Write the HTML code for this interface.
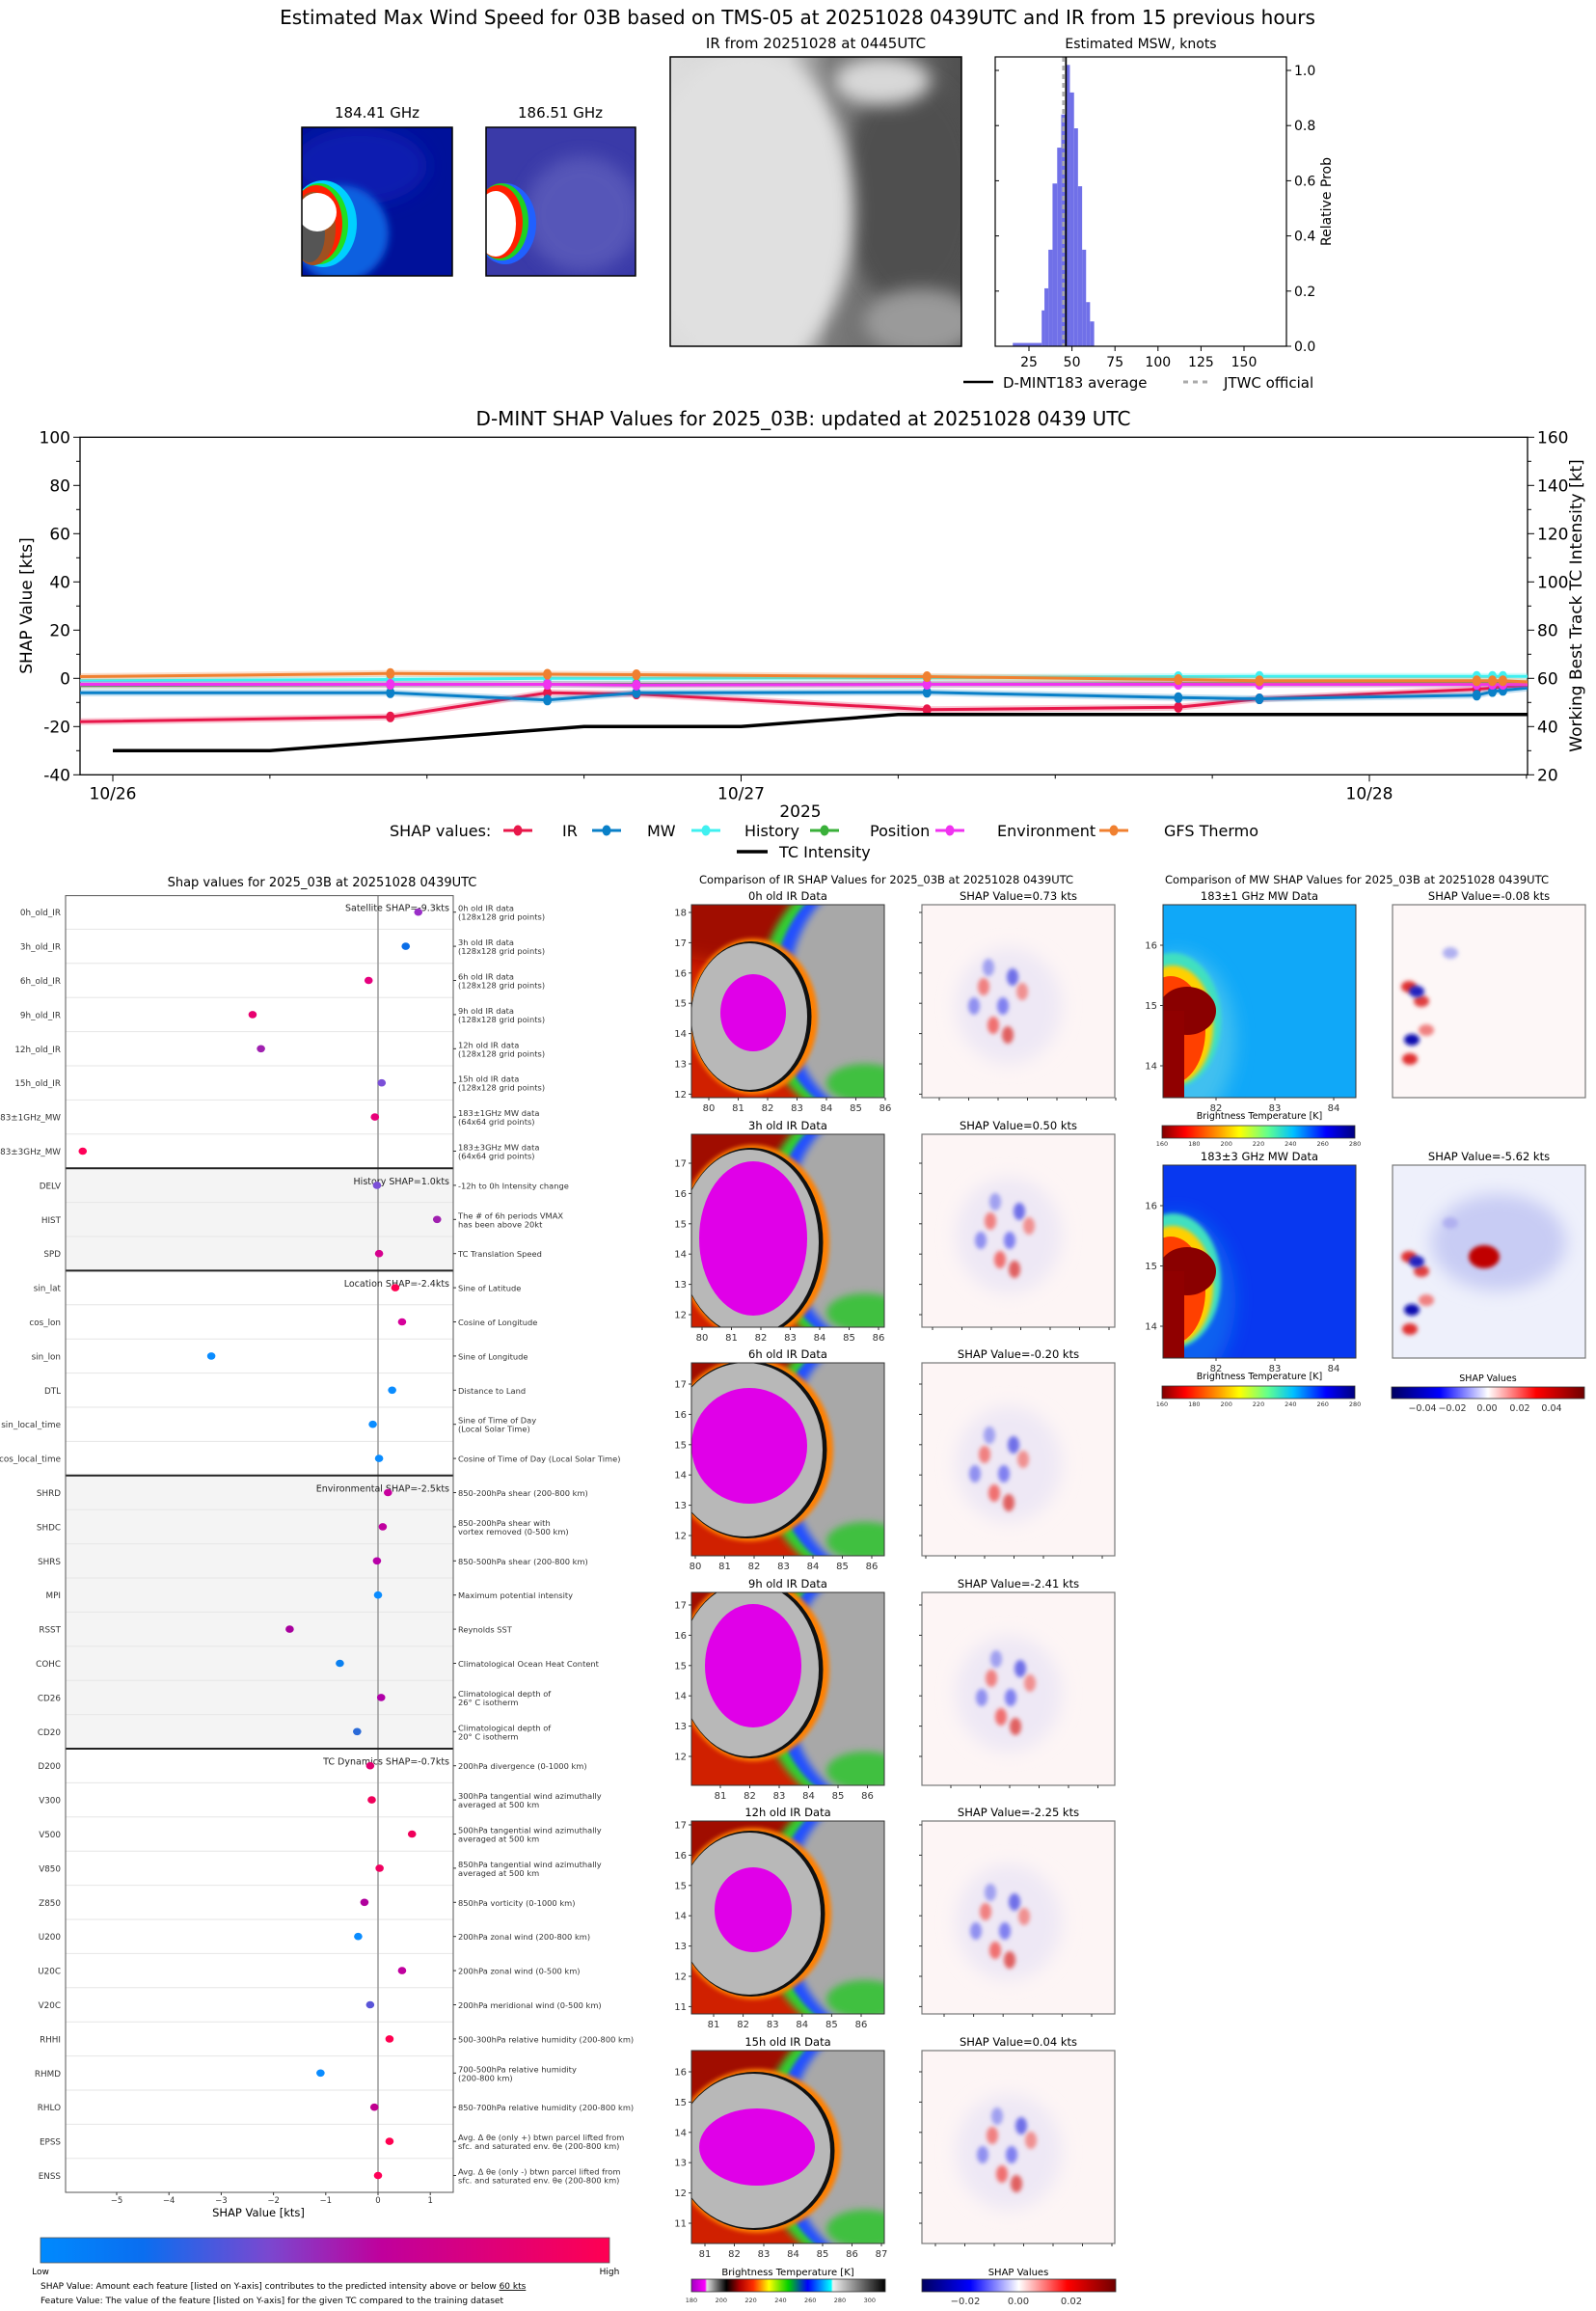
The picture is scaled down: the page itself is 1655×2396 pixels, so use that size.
<!DOCTYPE html>
<html><head><meta charset="utf-8">
<style>
html,body{margin:0;padding:0;background:#fff;}
svg{display:block;font-family:"DejaVu Sans","Liberation Sans",sans-serif;}
</style></head>
<body>
<svg id="root" xmlns="http://www.w3.org/2000/svg" width="1655" height="2396" viewBox="0 0 1655 2396">
<defs>
 <filter id="b4" x="-50%" y="-50%" width="200%" height="200%"><feGaussianBlur stdDeviation="4"/></filter>
 <filter id="b2" x="-50%" y="-50%" width="200%" height="200%"><feGaussianBlur stdDeviation="2"/></filter>
 <filter id="b8" x="-50%" y="-50%" width="200%" height="200%"><feGaussianBlur stdDeviation="9"/></filter>
 <linearGradient id="jetR" x1="0" x2="1" y1="0" y2="0">
  <stop offset="0" stop-color="#800000"/><stop offset="0.12" stop-color="#ff0000"/><stop offset="0.3" stop-color="#ffa000"/><stop offset="0.4" stop-color="#ffff00"/><stop offset="0.55" stop-color="#60ff90"/><stop offset="0.68" stop-color="#00c0ff"/><stop offset="0.85" stop-color="#0000ff"/><stop offset="1" stop-color="#000080"/>
 </linearGradient>
 <linearGradient id="bwr" x1="0" x2="1" y1="0" y2="0">
  <stop offset="0" stop-color="#000060"/><stop offset="0.25" stop-color="#0000ff"/><stop offset="0.5" stop-color="#ffffff"/><stop offset="0.75" stop-color="#ff0000"/><stop offset="1" stop-color="#700000"/>
 </linearGradient>
 <linearGradient id="irc" x1="0" x2="1" y1="0" y2="0">
  <stop offset="0" stop-color="#a000c0"/><stop offset="0.07" stop-color="#ff00ff"/><stop offset="0.08" stop-color="#e0e0e0"/><stop offset="0.18" stop-color="#000000"/><stop offset="0.25" stop-color="#b00000"/><stop offset="0.32" stop-color="#ff3000"/><stop offset="0.4" stop-color="#ffff00"/><stop offset="0.5" stop-color="#00d000"/><stop offset="0.6" stop-color="#0000ff"/><stop offset="0.72" stop-color="#00ffff"/><stop offset="0.73" stop-color="#f0f0f0"/><stop offset="1" stop-color="#000000"/>
 </linearGradient>
 <linearGradient id="shapc" x1="0" x2="1" y1="0" y2="0">
  <stop offset="0" stop-color="#008afe"/><stop offset="0.18" stop-color="#0a6ef0"/><stop offset="0.4" stop-color="#7a48d0"/><stop offset="0.6" stop-color="#c0009c"/><stop offset="1" stop-color="#ff0052"/>
 </linearGradient>
 <linearGradient id="irtop" x1="0" x2="1" y1="0" y2="0">
  <stop offset="0" stop-color="#dcdcdc"/><stop offset="0.4" stop-color="#d0d0d0"/><stop offset="0.55" stop-color="#7a7a7a"/><stop offset="1" stop-color="#505050"/>
 </linearGradient>
</defs>

<text x="827" y="25" font-size="20" text-anchor="middle">Estimated Max Wind Speed for 03B based on TMS-05 at 20251028 0439UTC and IR from 15 previous hours</text>
<text x="391" y="122" font-size="15" text-anchor="middle">184.41 GHz</text>
<text x="581" y="122" font-size="15" text-anchor="middle">186.51 GHz</text>
<text x="846" y="50" font-size="15" text-anchor="middle">IR from 20251028 at 0445UTC</text>
<text x="1183" y="50" font-size="14" text-anchor="middle">Estimated MSW, knots</text>

<g>
 <svg x="313" y="132" width="156" height="154" viewBox="0 0 156 154"><rect width="156" height="154" fill="#00119a"/>
  <ellipse cx="60" cy="40" rx="70" ry="40" fill="#0a1fb0" filter="url(#b8)"/>
  <ellipse cx="40" cy="110" rx="50" ry="50" fill="#0a60e0" filter="url(#b4)"/>
  <ellipse cx="22" cy="100" rx="35" ry="45" fill="#00d0ff"/>
  <ellipse cx="18" cy="100" rx="30" ry="42" fill="#20e020"/>
  <ellipse cx="15" cy="100" rx="27" ry="40" fill="#ff2000"/>
  <ellipse cx="12" cy="105" rx="23" ry="38" fill="#a05020"/>
  <ellipse cx="8" cy="110" rx="16" ry="30" fill="#555"/>
  <ellipse cx="16" cy="88" rx="20" ry="20" fill="#fff"/>
 </svg>
 <rect x="313" y="132" width="156" height="154" fill="none" stroke="#000" stroke-width="1.5"/>
</g>
<g>
 <svg x="504" y="132" width="155" height="154" viewBox="0 0 155 154"><rect width="155" height="154" fill="#3a3aa8"/>
  <ellipse cx="100" cy="90" rx="60" ry="60" fill="#5656b8" filter="url(#b8)"/>
  <ellipse cx="20" cy="100" rx="32" ry="42" fill="#2060ff"/>
  <ellipse cx="16" cy="98" rx="28" ry="40" fill="#20d020"/>
  <ellipse cx="13" cy="98" rx="25" ry="38" fill="#ff2000"/>
  <ellipse cx="10" cy="100" rx="21" ry="34" fill="#fff"/>
 </svg>
 <rect x="504" y="132" width="155" height="154" fill="none" stroke="#000" stroke-width="1.5"/>
</g>
<g>
 <svg x="695" y="59" width="302" height="300" viewBox="0 0 302 300"><rect width="302" height="300" fill="url(#irtop)"/>
  <ellipse cx="250" cy="140" rx="70" ry="120" fill="#505050" filter="url(#b8)"/>
  <ellipse cx="80" cy="160" rx="110" ry="170" fill="#e0e0e0" filter="url(#b8)"/>
  <ellipse cx="220" cy="25" rx="50" ry="25" fill="#d8d8d8" filter="url(#b8)"/>
  <ellipse cx="260" cy="275" rx="60" ry="35" fill="#9a9a9a" filter="url(#b8)"/>
 </svg>
 <rect x="695" y="59" width="302" height="300" fill="none" stroke="#000" stroke-width="1.5"/>
</g>
<g id="hist"></g>
<g>
 <line x1="999" y1="396" x2="1030" y2="396" stroke="#000" stroke-width="2.5"/>
 <text x="1040" y="402" font-size="15">D-MINT183 average</text>
 <line x1="1227" y1="396" x2="1257" y2="396" stroke="#aaa" stroke-width="3" stroke-dasharray="5,5"/>
 <text x="1269" y="402" font-size="15">JTWC official</text>
</g>

<text x="833" y="441" font-size="20" text-anchor="middle">D-MINT SHAP Values for 2025_03B: updated at 20251028 0439 UTC</text>
<g id="ts"></g>
<text transform="translate(33,628) rotate(-90)" font-size="17" text-anchor="middle">SHAP Value [kts]</text>
<text transform="translate(1640,628) rotate(-90)" font-size="17" text-anchor="middle">Working Best Track TC Intensity [kt]</text>
<text x="830" y="847" font-size="17" text-anchor="middle">2025</text>
<g id="tslegend">
 <text x="404" y="867" font-size="16">SHAP values:</text>
</g>

<text x="334" y="919" font-size="13" text-anchor="middle">Shap values for 2025_03B at 20251028 0439UTC</text>
<g id="dots"></g>
<text x="268" y="2298" font-size="11.5" text-anchor="middle">SHAP Value [kts]</text>
<rect x="42" y="2320" width="590" height="26" fill="url(#shapc)" stroke="#555" stroke-width="0.8"/>
<text x="42" y="2358" font-size="9" text-anchor="middle">Low</text>
<text x="632" y="2358" font-size="9" text-anchor="middle">High</text>
<text x="42" y="2373" font-size="9">SHAP Value: Amount each feature [listed on Y-axis] contributes to the predicted intensity above or below <tspan text-decoration="underline">60 kts</tspan></text>
<text x="42" y="2388" font-size="9">Feature Value: The value of the feature [listed on Y-axis] for the given TC compared to the training dataset</text>

<text x="919" y="916" font-size="11.5" text-anchor="middle">Comparison of IR SHAP Values for 2025_03B at 20251028 0439UTC</text>
<text x="1407" y="916" font-size="11.5" text-anchor="middle">Comparison of MW SHAP Values for 2025_03B at 20251028 0439UTC</text>
<g id="irpanels"></g>
<g id="mwpanels"></g>
</svg>

<script>
const NS='http://www.w3.org/2000/svg';
const histBinStarts=[15.6,32.4,34.0,36.3,38.7,41.4,43.75,46.1,48.8,51.2,53.5,55.9,58.2,60.5];
const histBinEnd=62.9;
const histProbs=[0.012,0.13,0.21,0.35,0.59,0.72,0.84,1.02,0.92,0.79,0.58,0.35,0.16,0.09];
const histXTicks=[25,50,75,100,125,150];
const histYTicks=[0,0.2,0.4,0.6,0.8,1.0];
const dmintMean=46.5;
const jtwcOfficial=45;

const tsHours=[-1.25,10.6,16.6,20,31.1,40.7,43.8,52.1,52.7,53.1,54.04];
const tsIR=[-18,-16,-6,-6.5,-13,-12,-8.5,-4.5,-4,-3.5,-3];
const tsMW=[-6,-6,-9,-6,-5.8,-8,-8.5,-7,-5.5,-5,-4];
const tsHistory=[-1,-0.5,0,0,0.3,0.7,0.8,0.8,0.8,0.8,0.8];
const tsPosition=[-3,-2.6,-2.5,-2.5,-2.4,-2.2,-2.2,-2.1,-2.1,-2.1,-2.1];
const tsEnvironment=[-2.5,-2.5,-2.5,-2.8,-2.5,-2.5,-2.5,-2.5,-2.5,-2.5,-2.5];
const tsGFS=[0.7,2,1.7,1.5,0.7,-0.5,-1,-1,-1,-1,-1.5];
const tcHours=[0,6,18,24,30,54.04];
const tcIntensity=[30,30,40,40,45,45];
const tsLeftTicks=[-40,-20,0,20,40,60,80,100];
const tsRightTicks=[20,40,60,80,100,120,140,160];
const tsDateLabels=['10/26','10/27','10/28'];

const features=['0h_old_IR','3h_old_IR','6h_old_IR','9h_old_IR','12h_old_IR','15h_old_IR','183±1GHz_MW','183±3GHz_MW','DELV','HIST','SPD','sin_lat','cos_lon','sin_lon','DTL','sin_local_time','cos_local_time','SHRD','SHDC','SHRS','MPI','RSST','COHC','CD26','CD20','D200','V300','V500','V850','Z850','U200','U20C','V20C','RHHI','RHMD','RHLO','EPSS','ENSS'];
const featureShap=[0.77,0.53,-0.18,-2.4,-2.24,0.07,-0.06,-5.65,-0.02,1.13,0.02,0.33,0.46,-3.19,0.27,-0.1,0.02,0.19,0.09,-0.02,0,-1.69,-0.73,0.06,-0.4,-0.15,-0.12,0.65,0.03,-0.26,-0.38,0.46,-0.15,0.22,-1.1,-0.07,0.22,0];
const featureColors=['#9a2fc8','#0a6ee8','#e6007e','#e8006f','#a020b0','#7b4fd8','#e8007a','#ff0058','#7b4fd8','#a020b0','#d6008e','#ff0050','#d6009a','#0a8cff','#0a8cff','#0a8cff','#0a8cff','#c8009e','#c0009f','#b800a8','#0a8cff','#a8009e','#0a80f0','#b000a8','#2a6ad8','#e00070','#f0005a','#f0005a','#f00060','#b0009c','#0a8cff','#c0009e','#5a55d8','#ff0050','#0a8cff','#c00090','#ff0050','#ff0058'];
const featureDesc=[['0h old IR data','(128x128 grid points)'],['3h old IR data','(128x128 grid points)'],['6h old IR data','(128x128 grid points)'],['9h old IR data','(128x128 grid points)'],['12h old IR data','(128x128 grid points)'],['15h old IR data','(128x128 grid points)'],['183±1GHz MW data','(64x64 grid points)'],['183±3GHz MW data','(64x64 grid points)'],['-12h to 0h Intensity change'],['The # of 6h periods VMAX','has been above 20kt'],['TC Translation Speed'],['Sine of Latitude'],['Cosine of Longitude'],['Sine of Longitude'],['Distance to Land'],['Sine of Time of Day','(Local Solar Time)'],['Cosine of Time of Day (Local Solar Time)'],['850-200hPa shear (200-800 km)'],['850-200hPa shear with','vortex removed (0-500 km)'],['850-500hPa shear (200-800 km)'],['Maximum potential intensity'],['Reynolds SST'],['Climatological Ocean Heat Content'],['Climatological depth of','26° C isotherm'],['Climatological depth of','20° C isotherm'],['200hPa divergence (0-1000 km)'],['300hPa tangential wind azimuthally','averaged at 500 km'],['500hPa tangential wind azimuthally','averaged at 500 km'],['850hPa tangential wind azimuthally','averaged at 500 km'],['850hPa vorticity (0-1000 km)'],['200hPa zonal wind (200-800 km)'],['200hPa zonal wind (0-500 km)'],['200hPa meridional wind (0-500 km)'],['500-300hPa relative humidity (200-800 km)'],['700-500hPa relative humidity','(200-800 km)'],['850-700hPa relative humidity (200-800 km)'],['Avg. Δ θe (only +) btwn parcel lifted from','sfc. and saturated env. θe (200-800 km)'],['Avg. Δ θe (only -) btwn parcel lifted from','sfc. and saturated env. θe (200-800 km)']];
const sectionNames=['Satellite SHAP=-9.3kts','History SHAP=1.0kts','Location SHAP=-2.4kts','Environmental SHAP=-2.5kts','TC Dynamics SHAP=-0.7kts'];
const sectionStarts=[0,8,11,17,25];
const dotXTicks=[-5,-4,-3,-2,-1,0,1];

const irTitles=['0h old IR Data','3h old IR Data','6h old IR Data','9h old IR Data','12h old IR Data','15h old IR Data'];
const irShapValues=['0.73','0.50','-0.20','-2.41','-2.25','0.04'];
const mwTitles=['183±1 GHz MW Data','183±3 GHz MW Data'];
const mwShapValues=['-0.08','-5.62'];

const root=document.getElementById('root');
function mk(tag,attrs,parent){const e=document.createElementNS(NS,tag);for(const k in attrs)e.setAttribute(k,attrs[k]);parent.appendChild(e);return e;}
function txt(s,attrs,parent){const e=mk('text',attrs,parent);e.textContent=s;return e;}

(function(){
 const g=document.getElementById('hist');
 const X0=1032,X1=1334,Y0=59,Y1=359;
 const hx=v=>1067+(v-25)*1.784, hy=p=>359-p*286;
 for(let i=0;i<histProbs.length;i++){
  const a=histBinStarts[i], b=(i+1<histBinStarts.length)?histBinStarts[i+1]:histBinEnd;
  const r=mk('rect',{x:hx(a),y:hy(histProbs[i]),width:hx(b)-hx(a),height:359-hy(histProbs[i]),fill:'#7070e8'},g);
  
  
 }
 const jl=mk('line',{x1:hx(jtwcOfficial),x2:hx(jtwcOfficial),y1:Y0,y2:Y1,stroke:'#aaa','stroke-width':2.5,'stroke-dasharray':'5,4'},g);
 
 
 const ml=mk('line',{x1:hx(dmintMean),x2:hx(dmintMean),y1:Y0,y2:Y1,stroke:'#000','stroke-width':1.8},g);
 
 
 const fr=mk('rect',{x:X0,y:Y0,width:X1-X0,height:Y1-Y0,fill:'none',stroke:'#000','stroke-width':1.2},g);
 
 
 histXTicks.forEach(t=>{
  mk('line',{x1:hx(t),x2:hx(t),y1:Y1,y2:Y1+5,stroke:'#000'},g);
  const l=txt(String(t),{x:hx(t),y:Y1+21,'font-size':14,'text-anchor':'middle'},g);
  
  
 });
 histYTicks.forEach(t=>{
  mk('line',{x1:X1,x2:X1+5,y1:hy(t),y2:hy(t),stroke:'#000'},g);
  mk('line',{x1:X0,x2:X0+4,y1:hy(t),y2:hy(t),stroke:'#000'},g);
  const l=txt(t.toFixed(1),{x:X1+8,y:hy(t)+5,'font-size':14},g);
  
  
 });
 const yl=txt('Relative Prob',{transform:'translate(1380,209) rotate(-90)','font-size':14,'text-anchor':'middle'},g);
 
 
})();

(function(){
 const g=document.getElementById('ts');
 const X0=83,X1=1584,Y0=453.3,Y1=803.3;
 const tx=h=>117+h*27.146, ty=v=>Y0+(100-v)*2.5, ty2=v=>Y0+(160-v)*2.5;
 const fr=mk('rect',{x:X0,y:Y0,width:X1-X0,height:Y1-Y0,fill:'none',stroke:'#000','stroke-width':1.3},g);
 
 
 for(let v=-40;v<=100;v+=10){mk('line',{x1:X0-(v%20===0?7:4),x2:X0,y1:ty(v),y2:ty(v),stroke:'#000'},g);}
 for(let v=20;v<=160;v+=10){mk('line',{x1:X1,x2:X1+(v%20===0?7:4),y1:ty2(v),y2:ty2(v),stroke:'#000'},g);}
 tsLeftTicks.forEach(v=>{const l=txt(String(v),{x:X0-10,y:ty(v)+6,'font-size':17,'text-anchor':'end'},g);
  
  });
 tsRightTicks.forEach(v=>{const l=txt(String(v),{x:X1+10,y:ty2(v)+6,'font-size':17},g);
  
  });
 for(let h=0;h<=54;h+=6){mk('line',{x1:tx(h),x2:tx(h),y1:Y1,y2:Y1+(h%24===0?7:4),stroke:'#000'},g);}
 tsDateLabels.forEach((s,i)=>{const l=txt(s,{x:tx(i*24),y:Y1+25,'font-size':17,'text-anchor':'middle'},g);
  
  });
 const series=[['ir',tsIR,'#e8174a'],['mw',tsMW,'#0a80c8'],['history',tsHistory,'#40f0f0'],['position',tsPosition,'#3ab03a'],['environment',tsEnvironment,'#f032f0'],['gfs-thermo',tsGFS,'#f08030']];
 series.forEach(([nm,vals,col])=>{
  const pts=vals.map((v,i)=>tx(tsHours[i])+','+ty(v)).join(' ');
  const halo=mk('polyline',{points:pts,fill:'none',stroke:col,'stroke-opacity':0.25,'stroke-width':7},g);
  
  
  const pl=mk('polyline',{points:pts,fill:'none',stroke:col,'stroke-width':3},g);
  
  
  for(let i=1;i<vals.length-1;i++){
   const c=mk('ellipse',{cx:tx(tsHours[i]),cy:ty(vals[i]),rx:4.5,ry:5.5,fill:col},g);
   
   
  }
 });
 const tpts=tcIntensity.map((v,i)=>tx(tcHours[i])+','+ty2(v)).join(' ');
 const tc=mk('polyline',{points:tpts,fill:'none',stroke:'#000','stroke-width':3.5},g);
 
 
 const lg=document.getElementById('tslegend');
 const items=[['IR','#e8174a',537,583],['MW','#0a80c8',629,671],['History','#40f0f0',732,772],['Position','#3ab03a',855,902],['Environment','#f032f0',985,1034],['GFS Thermo','#f08030',1155,1207]];
 items.forEach(([s,c,mx,txx])=>{
  const ln=mk('line',{x1:mx-15,x2:mx+15,y1:861,y2:861,stroke:c,'stroke-width':3},lg);
  
  
  const d=mk('ellipse',{cx:mx,cy:861,rx:4.5,ry:5.5,fill:c},lg);
  
  
  const t=txt(s,{x:txx,y:867,'font-size':16},lg);
  
  
 });
 const tl=mk('line',{x1:764,x2:796,y1:883,y2:883,stroke:'#000','stroke-width':3.5},lg);
 
 
 const tt=txt('TC Intensity',{x:808,y:889,'font-size':16},lg);
 
 
})();

(function(){
 const g=document.getElementById('dots');
 const X0=68,X1=470,Y0=928.6,Y1=2273;
 const dx=v=>392+v*54.2, rowY=i=>945.7+i*35.4;
 const bgSections=[[8,11],[17,25]];
 bgSections.forEach(([a,b])=>{
  const r=mk('rect',{x:X0,y:rowY(a)-17.7,width:X1-X0,height:(b-a)*35.4,fill:'#f4f4f4'},g);
  
  
 });
 for(let i=0;i<features.length-1;i++){mk('line',{x1:X0,x2:X1,y1:rowY(i)+17.7,y2:rowY(i)+17.7,stroke:'#e6e6e6','stroke-width':1},g);}
 const zl=mk('line',{x1:dx(0),x2:dx(0),y1:Y0,y2:Y1,stroke:'#999','stroke-width':1.5},g);
 
 
 sectionStarts.forEach((s,k)=>{
  if(s>0){const l=mk('line',{x1:X0,x2:X1,y1:rowY(s)-17.7,y2:rowY(s)-17.7,stroke:'#222','stroke-width':2},g);
   
   }
  const t=txt(sectionNames[k],{x:466,y:rowY(s)-1,'font-size':9.5,'text-anchor':'end',fill:'#222'},g);
  
  
 });
 const fr=mk('rect',{x:X0,y:Y0,width:X1-X0,height:Y1-Y0,fill:'none',stroke:'#555','stroke-width':1},g);
 
 
 features.forEach((f,i)=>{
  const y=rowY(i);
  const lab=txt(f,{x:63,y:y+3.5,'font-size':8.8,'text-anchor':'end',fill:'#333'},g);
  
  
  mk('line',{x1:X1,x2:X1+3,y1:y,y2:y,stroke:'#333'},g);
  const d=featureDesc[i];
  const y0=d.length===1?y+3.5:y-1;
  d.forEach((s,j)=>{const t=txt(s,{x:475,y:y0+j*9,'font-size':8.3,fill:'#333'},g);
   
   });
  const c=mk('ellipse',{cx:dx(featureShap[i]),cy:y,rx:4.3,ry:3.8,fill:featureColors[i]},g);
  
  
 });
 dotXTicks.forEach(v=>{
  mk('line',{x1:dx(v),x2:dx(v),y1:Y1,y2:Y1+3,stroke:'#333'},g);
  const t=txt(v<0?'\u2212'+Math.abs(v):String(v),{x:dx(v),y:Y1+11,'font-size':8.5,'text-anchor':'middle',fill:'#333'},g);
  
  
 });
})();

const irTops=[938,1176,1413,1651,1888,2126];
const irBlobs=[[0.3,0.58,0.17,0.2,0.3,0.38],[0.3,0.56,0.28,0.4,0.36,0.48],[0.28,0.45,0.3,0.3,0.4,0.45],[0.3,0.4,0.25,0.32,0.36,0.45],[0.3,0.48,0.2,0.22,0.37,0.42],[0.32,0.52,0.3,0.2,0.4,0.4]];
const irYLab=[[18,8,7],[17,30,6],[17,22,6],[17,13,6],[17,4,7],[16,22,6]];
const irXLab=[[80,735,30.5,7],[80,728,30.5,7],[80,721,30.5,7],[81,747,30.5,6],[81,740,30.6,6],[81,731,30.5,7]];
(function(){
 const g=document.getElementById('irpanels');
 const W=200,H=200,XA=717,XB=956;
 irTops.forEach((top,r)=>{
  const b=irBlobs[r];
  const t1=txt(irTitles[r],{x:XA+100,y:top-5,'font-size':11.5,'text-anchor':'middle'},g);
  
  
  const t2=txt('SHAP Value='+irShapValues[r]+' kts',{x:XB+100,y:top-5,'font-size':11.5,'text-anchor':'middle'},g);
  
  
  const s=mk('svg',{x:XA,y:top,width:W,height:H,viewBox:'0 0 200 200'},g);
  
  
  mk('rect',{width:200,height:200,fill:'#d02000'},s);
  mk('ellipse',{cx:40,cy:20,rx:90,ry:40,fill:'#a01000',filter:'url(#b8)'},s);
  mk('ellipse',{cx:175,cy:95,rx:105,ry:130,fill:'#30d030',filter:'url(#b4)'},s);
  mk('ellipse',{cx:178,cy:95,rx:94,ry:125,fill:'#2050ff',filter:'url(#b2)'},s);
  mk('ellipse',{cx:182,cy:95,rx:82,ry:120,fill:'#a8a8a8',filter:'url(#b4)'},s);
  mk('ellipse',{cx:180,cy:185,rx:40,ry:20,fill:'#40c040',filter:'url(#b4)'},s);
  mk('ellipse',{cx:b[0]*200+4,cy:b[1]*200,rx:b[4]*200+7,ry:b[5]*200+5,fill:'#ff8000',filter:'url(#b2)'},s);
  mk('ellipse',{cx:b[0]*200+2,cy:b[1]*200,rx:b[4]*200+2.5,ry:b[5]*200+2,fill:'#111'},s);
  mk('ellipse',{cx:b[0]*200,cy:b[1]*200,rx:b[4]*200,ry:b[5]*200,fill:'#b8b8b8'},s);
  mk('ellipse',{cx:b[0]*200+4,cy:b[1]*200-4,rx:b[2]*200,ry:b[3]*200,fill:'#e000e8'},s);
  mk('rect',{x:XA,y:top,width:W,height:H,fill:'none',stroke:'#333','stroke-width':1},g);
  const sm=mk('svg',{x:XB,y:top,width:W,height:H,viewBox:'0 0 200 200'},g);
  
  
  mk('rect',{width:200,height:200,fill:'#fdf5f5'},sm);
  mk('ellipse',{cx:90,cy:105,rx:55,ry:60,fill:'#eee8f5',filter:'url(#b8)'},sm);
  const spots=[[70,90,'#f08080'],[90,110,'#8080f0'],[80,130,'#f07070'],[100,80,'#7070e8'],[60,110,'#9090f0'],[95,140,'#e06060'],[110,95,'#f09090'],[75,70,'#a0a0f0']];
  spots.forEach(([x,y,c],k)=>{mk('ellipse',{cx:x+(r*7%13)-6,cy:y+(r*5%11)-5,rx:6,ry:9,fill:c,filter:'url(#b2)'},sm);});
  mk('rect',{x:XB,y:top,width:W,height:H,fill:'none',stroke:'#777','stroke-width':1.2},g);
  const yl=irYLab[r];
  for(let k=0;k<yl[2];k++){const yy=top+yl[1]+k*31.4;
   mk('line',{x1:XA-3,x2:XA,y1:yy,y2:yy,stroke:'#333'},g);
   mk('line',{x1:XB-3,x2:XB,y1:yy,y2:yy,stroke:'#333'},g);
   const t=txt(String(yl[0]-k),{x:XA-5,y:yy+3.5,'font-size':10,'text-anchor':'end',fill:'#333'},g);
   
   }
  const xl=irXLab[r];
  for(let k=0;k<xl[3];k++){const xx=xl[1]+k*xl[2];
   mk('line',{x1:xx,x2:xx,y1:top+H,y2:top+H+3,stroke:'#333'},g);
   mk('line',{x1:xx+239,x2:xx+239,y1:top+H,y2:top+H+3,stroke:'#333'},g);
   const t=txt(String(xl[0]+k),{x:xx,y:top+H+14,'font-size':10,'text-anchor':'middle',fill:'#333'},g);
   
   }
 });
 const ct=txt('Brightness Temperature [K]',{x:817,y:2359,'font-size':10,'text-anchor':'middle'},g);
 
 
 const cb=mk('rect',{x:717,y:2363,width:201,height:13,fill:'url(#irc)',stroke:'#333','stroke-width':0.8},g);
 
 
 [180,200,220,240,260,280,300].forEach((v,k)=>{const t=txt(String(v),{x:717+(v-180)*1.54,y:2387,'font-size':6.5,'text-anchor':'middle',fill:'#333'},g);
  
  });
 const st=txt('SHAP Values',{x:1056,y:2359,'font-size':10,'text-anchor':'middle'},g);
 
 
 const sb=mk('rect',{x:956,y:2363,width:201,height:13,fill:'url(#bwr)',stroke:'#333','stroke-width':0.8},g);
 
 
 [['\u22120.02',1001],['0.00',1056],['0.02',1111]].forEach(([s,x])=>{const t=txt(s,{x:x,y:2389,'font-size':10,'text-anchor':'middle',fill:'#333'},g);
  
  });
})();

const mwTops=[938,1208];
(function(){
 const g=document.getElementById('mwpanels');
 const XA=1206,XB=1444,W=200,H=200;
 mwTops.forEach((top,r)=>{
  const t1=txt(mwTitles[r],{x:XA+100,y:top-5,'font-size':11.5,'text-anchor':'middle'},g);
  
  
  const t2=txt('SHAP Value='+mwShapValues[r]+' kts',{x:XB+100,y:top-5,'font-size':11.5,'text-anchor':'middle'},g);
  
  
  const s=mk('svg',{x:XA,y:top,width:W,height:H,viewBox:'0 0 200 200'},g);
  
  
  mk('rect',{width:200,height:200,fill:r===0?'#10a8f8':'#0838f0'},s);
  mk('ellipse',{cx:15,cy:140,rx:60,ry:90,fill:r===0?'#40c0f0':'#1060f0',filter:'url(#b8)'},s);
  mk('ellipse',{cx:10,cy:120,rx:50,ry:70,fill:'#40e0c0',filter:'url(#b2)'},s);
  mk('ellipse',{cx:10,cy:125,rx:42,ry:62,fill:'#ffd000',filter:'url(#b2)'},s);
  mk('ellipse',{cx:8,cy:130,rx:36,ry:56,fill:'#ff4000'},s);
  mk('ellipse',{cx:25,cy:110,rx:30,ry:25,fill:'#8a0000'},s);
  mk('rect',{x:0,y:110,width:22,height:90,fill:'#900000'},s);
  mk('rect',{x:XA,y:top,width:W,height:H,fill:'none',stroke:'#333','stroke-width':1},g);
  const sm=mk('svg',{x:XB,y:top,width:W,height:H,viewBox:'0 0 200 200'},g);
  
  
  mk('rect',{width:200,height:200,fill:r===0?'#fdf7f7':'#eef0fb'},sm);
  if(r===1){mk('ellipse',{cx:110,cy:80,rx:70,ry:50,fill:'#c8ccf4',filter:'url(#b8)'},sm);
   mk('ellipse',{cx:95,cy:95,rx:16,ry:12,fill:'#c00000',filter:'url(#b2)'},sm);}
  [[17,95,'#e03030'],[30,110,'#e04040'],[25,100,'#2020c0'],[20,150,'#1010b0'],[18,170,'#e03030'],[35,140,'#f08080'],[60,60,'#b0b0f0']].forEach(([x,y,c])=>{
   mk('ellipse',{cx:x,cy:r===0?y-10:y,rx:8,ry:6,fill:c,filter:'url(#b2)'},sm);});
  mk('rect',{x:XB,y:top,width:W,height:H,fill:'none',stroke:'#777','stroke-width':1.2},g);
  [[16,42],[15,104.5],[14,167]].forEach(([v,o])=>{
   mk('line',{x1:XA-3,x2:XA,y1:top+o,y2:top+o,stroke:'#333'},g);
   const t=txt(String(v),{x:XA-6,y:top+o+3.5,'font-size':10,'text-anchor':'end',fill:'#333'},g);
   
   });
  [[82,1261],[83,1322],[84,1383]].forEach(([v,x])=>{
   mk('line',{x1:x,x2:x,y1:top+H,y2:top+H+3,stroke:'#333'},g);
   const t=txt(String(v),{x:x,y:top+H+14,'font-size':10,'text-anchor':'middle',fill:'#333'},g);
   
   });
  const cy=top+229;
  const ct=txt('Brightness Temperature [K]',{x:1306,y:cy-7,'font-size':9.5,'text-anchor':'middle'},g);
  
  
  const cb=mk('rect',{x:1205,y:cy,width:200,height:13,fill:'url(#jetR)',stroke:'#333','stroke-width':0.8},g);
  
  
  [160,180,200,220,240,260,280].forEach(v=>{const t=txt(String(v),{x:1205+(v-160)*1.667,y:cy+21,'font-size':6.5,'text-anchor':'middle',fill:'#333'},g);
   
   });
 });
 const st=txt('SHAP Values',{x:1543,y:1432,'font-size':9.5,'text-anchor':'middle'},g);
 
 
 const sb=mk('rect',{x:1443,y:1438,width:200,height:12,fill:'url(#bwr)',stroke:'#333','stroke-width':0.8},g);
 
 
 [['\u22120.04',1475],['\u22120.02',1506],['0.00',1542],['0.02',1576],['0.04',1609]].forEach(([s,x])=>{const t=txt(s,{x:x,y:1463,'font-size':9.5,'text-anchor':'middle',fill:'#333'},g);
  
  });
})();
</script>
</body></html>
